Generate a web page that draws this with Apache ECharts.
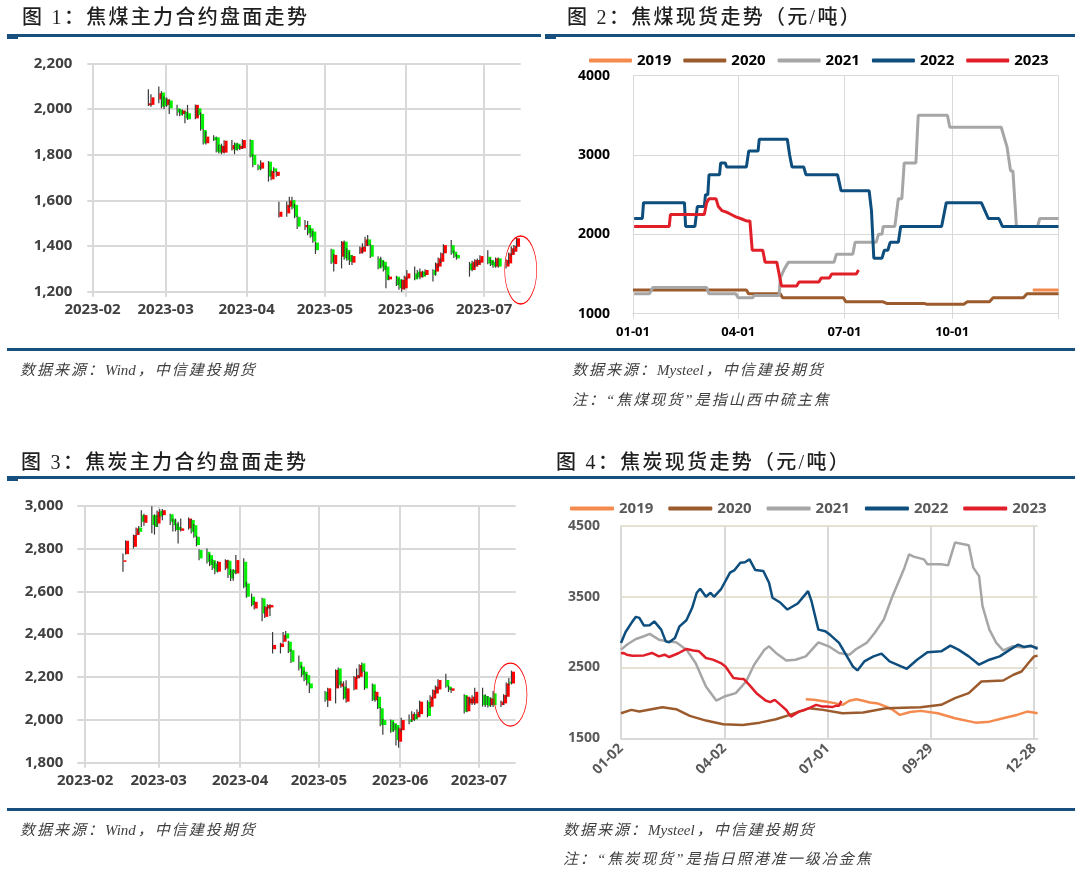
<!DOCTYPE html>
<html>
<head>
<meta charset="utf-8">
<script src="https://cdn.jsdelivr.net/npm/echarts@6/dist/echarts.min.js"></script>
<style>
  html, body { margin: 0; padding: 0; background: #fff; }
  #page { position: relative; width: 1080px; height: 872px; overflow: hidden; }
  #chart { position: absolute; left: 0; top: 0; width: 1080px; height: 872px; }
  .title {
    position: absolute; white-space: nowrap;
    font-family: "Liberation Serif", "Noto Sans CJK SC", serif;
    font-size: 20px; line-height: 20px; font-weight: 500;
    letter-spacing: 2.3px; color: #1f1f1f;
  }
  .rule { position: absolute; height: 3px; background: #17507f; }
  .tab { position: absolute; height: 2px; width: 11px; background: #17507f; }
  .note {
    position: absolute; white-space: nowrap;
    font-family: "Liberation Serif", "Noto Sans CJK SC", serif;
    font-style: italic; font-size: 15px; line-height: 16px;
    letter-spacing: 2px; color: #404040;
  }
  .note .en { letter-spacing: 0; margin-right: 2px; }
</style>
</head>
<body>
<div id="page">
  <div id="chart"></div>

  <div class="title" style="left:22px; top:7px;">图 1：焦煤主力合约盘面走势</div>
  <div class="title" style="left:567px; top:7px;">图 2：焦煤现货走势（元/吨）</div>
  <div class="rule" style="left:7px; top:34px; width:534px;"></div>
  <div class="tab" style="left:7px; top:37px;"></div>
  <div class="rule" style="left:545px; top:34px; width:530px;"></div>
  <div class="tab" style="left:545px; top:37px;"></div>

  <div class="rule" style="left:7px; top:348px; width:1068px;"></div>
  <div class="note" style="left:20px; top:362px;">数据来源：<span class="en">Wind</span>，中信建投期货</div>
  <div class="note" style="left:572px; top:362px;">数据来源：<span class="en">Mysteel</span>，中信建投期货</div>
  <div class="note" style="left:572px; top:392px;">注：“焦煤现货”是指山西中硫主焦</div>

  <div class="title" style="left:21px; top:452px;">图 3：焦炭主力合约盘面走势</div>
  <div class="title" style="left:556px; top:452px;">图 4：焦炭现货走势（元/吨）</div>
  <div class="rule" style="left:7px; top:476px; width:1068px;"></div>
  <div class="tab" style="left:7px; top:479px;"></div>

  <div class="rule" style="left:7px; top:808px; width:1068px;"></div>
  <div class="note" style="left:20px; top:822px;">数据来源：<span class="en">Wind</span>，中信建投期货</div>
  <div class="note" style="left:563px; top:822px;">数据来源：<span class="en">Mysteel</span>，中信建投期货</div>
  <div class="note" style="left:563px; top:851px;">注：“焦炭现货”是指日照港准一级冶金焦</div>
</div>

<script>
// ---------- data ----------
// 图1 焦煤主力合约：[日期, 开, 收, 低, 高]
const jmK = [
  ['2023-02-23',2016,2025,2013,2086],['2023-02-24',2018,2051,2010,2064],
  ['2023-02-27',2042,2069,2025,2098],['2023-02-28',2072,2010,2003,2078],
  ['2023-03-01',2047,2013,2000,2055],['2023-03-02',2018,2042,2010,2050],
  ['2023-03-03',2037,2003,1978,2042],['2023-03-06',2003,1984,1970,2018],
  ['2023-03-07',1996,1974,1968,2000],['2023-03-08',1978,1993,1970,1998],
  ['2023-03-09',1988,1959,1937,1992],['2023-03-10',1981,1955,1952,2018],
  ['2023-03-13',1959,2018,1955,2020],['2023-03-14',2003,1974,1968,2005],
  ['2023-03-15',1978,1911,1905,1985],['2023-03-16',1908,1850,1845,1912],
  ['2023-03-17',1850,1879,1845,1901],['2023-03-20',1876,1864,1860,1885],
  ['2023-03-21',1876,1813,1810,1880],['2023-03-22',1842,1809,1805,1845],
  ['2023-03-23',1809,1838,1802,1848],['2023-03-24',1809,1861,1805,1863],
  ['2023-03-27',1823,1842,1818,1864],['2023-03-28',1850,1820,1802,1853],
  ['2023-03-29',1848,1825,1818,1852],['2023-03-30',1825,1838,1820,1842],
  ['2023-03-31',1828,1864,1825,1868],['2023-04-03',1864,1791,1788,1868],
  ['2023-04-04',1799,1755,1745,1802],['2023-04-06',1753,1736,1732,1758],
  ['2023-04-07',1739,1766,1732,1775],['2023-04-10',1769,1704,1682,1772],
  ['2023-04-11',1692,1728,1688,1732],['2023-04-12',1740,1725,1720,1745],
  ['2023-04-13',1707,1725,1703,1728],['2023-04-14',1528,1550,1525,1594],
  ['2023-04-17',1543,1580,1528,1595],['2023-04-18',1572,1599,1568,1616],
  ['2023-04-19',1601,1565,1560,1616],['2023-04-20',1580,1528,1522,1585],
  ['2023-04-21',1528,1485,1475,1532],['2023-04-24',1482,1492,1470,1514],
  ['2023-04-25',1492,1456,1447,1510],['2023-04-26',1477,1441,1436,1480],
  ['2023-04-27',1463,1419,1414,1466],['2023-04-28',1415,1382,1365,1418],
  ['2023-05-04',1385,1327,1321,1388],['2023-05-05',1321,1361,1288,1365],
  ['2023-05-08',1353,1419,1302,1422],['2023-05-09',1419,1346,1340,1424],
  ['2023-05-10',1383,1339,1335,1390],['2023-05-11',1361,1331,1317,1375],
  ['2023-05-12',1327,1356,1317,1360],['2023-05-15',1368,1394,1365,1398],
  ['2023-05-16',1375,1397,1368,1412],['2023-05-17',1400,1429,1395,1441],
  ['2023-05-18',1429,1404,1400,1448],['2023-05-19',1404,1353,1348,1408],
  ['2023-05-22',1346,1302,1298,1355],['2023-05-23',1339,1310,1305,1353],
  ['2023-05-24',1331,1295,1288,1335],['2023-05-25',1310,1251,1215,1315],
  ['2023-05-26',1254,1266,1250,1273],['2023-05-29',1266,1229,1225,1270],
  ['2023-05-30',1254,1215,1208,1258],['2023-05-31',1210,1251,1200,1255],
  ['2023-06-01',1215,1266,1210,1270],['2023-06-02',1258,1280,1252,1295],
  ['2023-06-05',1280,1254,1250,1310],['2023-06-06',1288,1263,1258,1295],
  ['2023-06-07',1263,1288,1255,1302],['2023-06-08',1288,1266,1262,1292],
  ['2023-06-09',1273,1295,1270,1298],['2023-06-12',1295,1273,1245,1298],
  ['2023-06-13',1288,1324,1270,1328],['2023-06-14',1310,1346,1305,1350],
  ['2023-06-15',1331,1368,1325,1372],['2023-06-16',1368,1404,1362,1408],
  ['2023-06-19',1404,1368,1362,1426],['2023-06-20',1375,1353,1348,1380],
  ['2023-06-21',1361,1346,1340,1365],['2023-06-26',1324,1295,1266,1330],
  ['2023-06-27',1295,1331,1290,1335],['2023-06-28',1310,1339,1305,1342],
  ['2023-06-29',1317,1339,1312,1345],['2023-06-30',1327,1356,1322,1360],
  ['2023-07-03',1353,1324,1320,1382],['2023-07-04',1339,1317,1312,1345],
  ['2023-07-05',1331,1310,1305,1335],['2023-07-06',1310,1346,1305,1350],
  ['2023-07-07',1346,1310,1305,1350],['2023-07-10',1310,1339,1302,1342],
  ['2023-07-11',1324,1368,1320,1372],['2023-07-12',1361,1390,1355,1398],
  ['2023-07-13',1375,1400,1370,1405],['2023-07-14',1397,1434,1392,1440]
];

// 图3 焦炭主力合约：[日期, 开, 收, 低, 高]
const jK = [
  ['2023-02-16',2740,2745,2692,2777],['2023-02-17',2774,2836,2772,2838],
  ['2023-02-20',2808,2863,2800,2865],['2023-02-21',2863,2894,2858,2898],
  ['2023-02-22',2898,2878,2870,2905],['2023-02-23',2956,2925,2901,2979],
  ['2023-02-24',2920,2956,2906,2962],['2023-02-27',2956,2910,2871,2998],
  ['2023-02-28',2956,2901,2865,2960],['2023-03-01',2917,2972,2900,2978],
  ['2023-03-02',2976,2951,2945,2985],['2023-03-03',2956,2979,2932,2985],
  ['2023-03-06',2960,2925,2910,2962],['2023-03-07',2936,2909,2880,2940],
  ['2023-03-08',2917,2886,2880,2940],['2023-03-09',2901,2886,2824,2925],
  ['2023-03-10',2883,2894,2880,2940],['2023-03-13',2894,2940,2888,2945],
  ['2023-03-14',2933,2878,2870,2938],['2023-03-15',2909,2855,2850,2915],
  ['2023-03-16',2855,2816,2810,2860],['2023-03-17',2793,2754,2745,2797],
  ['2023-03-20',2785,2738,2730,2800],['2023-03-21',2769,2723,2718,2775],
  ['2023-03-22',2746,2707,2700,2750],['2023-03-23',2730,2692,2680,2740],
  ['2023-03-24',2692,2738,2688,2742],['2023-03-27',2707,2746,2700,2750],
  ['2023-03-28',2743,2676,2662,2748],['2023-03-29',2700,2660,2648,2705],
  ['2023-03-30',2700,2684,2650,2705],['2023-03-31',2684,2746,2680,2770],
  ['2023-04-03',2738,2621,2615,2755],['2023-04-04',2637,2575,2570,2645],
  ['2023-04-06',2575,2536,2530,2590],['2023-04-07',2520,2551,2515,2555],
  ['2023-04-10',2567,2497,2460,2570],['2023-04-11',2481,2528,2476,2530],
  ['2023-04-12',2520,2536,2512,2540],['2023-04-13',2525,2536,2485,2540],
  ['2023-04-14',2330,2350,2310,2410],['2023-04-17',2340,2357,2310,2360],
  ['2023-04-18',2365,2396,2360,2410],['2023-04-19',2404,2380,2375,2415],
  ['2023-04-20',2365,2318,2312,2370],['2023-04-21',2325,2271,2265,2330],
  ['2023-04-24',2271,2240,2230,2300],['2023-04-25',2248,2209,2200,2255],
  ['2023-04-26',2225,2186,2180,2230],['2023-04-27',2209,2170,2160,2215],
  ['2023-04-28',2170,2147,2125,2175],['2023-05-04',2131,2092,2085,2135],
  ['2023-05-05',2089,2147,2060,2150],['2023-05-08',2147,2233,2077,2236],
  ['2023-05-09',2240,2162,2150,2245],['2023-05-10',2155,2170,2150,2180],
  ['2023-05-11',2155,2100,2095,2180],['2023-05-12',2085,2147,2080,2185],
  ['2023-05-15',2142,2201,2138,2205],['2023-05-16',2194,2209,2190,2240],
  ['2023-05-17',2201,2256,2195,2260],['2023-05-18',2264,2225,2220,2268],
  ['2023-05-19',2225,2147,2140,2230],['2023-05-22',2166,2092,2088,2170],
  ['2023-05-23',2092,2131,2085,2135],['2023-05-24',2108,2054,2050,2112],
  ['2023-05-25',2054,1976,1970,2060],['2023-05-26',1999,1976,1930,2005],
  ['2023-05-29',1999,1945,1940,2002],['2023-05-30',1984,1952,1945,1990],
  ['2023-05-31',1976,1906,1880,1980],['2023-06-01',1898,1960,1870,1965],
  ['2023-06-02',1952,1999,1945,2010],['2023-06-05',2002,1991,1980,2025],
  ['2023-06-06',1999,2027,1990,2040],['2023-06-07',2027,2002,1995,2035],
  ['2023-06-08',2012,2038,2005,2050],['2023-06-09',2027,2085,2020,2090],
  ['2023-06-12',2085,2018,2012,2092],['2023-06-13',2061,2108,2055,2115],
  ['2023-06-14',2100,2139,2095,2142],['2023-06-15',2123,2155,2118,2160],
  ['2023-06-16',2142,2186,2138,2190],['2023-06-19',2186,2155,2150,2215],
  ['2023-06-20',2155,2139,2130,2160],['2023-06-21',2136,2147,2125,2150],
  ['2023-06-26',2116,2038,2030,2120],['2023-06-27',2040,2108,2035,2112],
  ['2023-06-28',2077,2100,2070,2105],['2023-06-29',2077,2108,2070,2115],
  ['2023-06-30',2077,2131,2070,2150],['2023-07-03',2116,2069,2062,2150],
  ['2023-07-04',2111,2069,2060,2120],['2023-07-05',2105,2064,2058,2112],
  ['2023-07-06',2069,2100,2060,2105],['2023-07-07',2124,2069,2060,2135],
  ['2023-07-10',2069,2085,2060,2090],['2023-07-11',2077,2116,2070,2120],
  ['2023-07-12',2108,2170,2100,2175],['2023-07-13',2178,2170,2160,2195],
  ['2023-07-14',2170,2225,2165,2230]
];

// 图2 焦煤现货：[当年第几天(0=01-01), 元/吨]
const jmSpot2019 = [[342,1300],[364,1300]];
const jmSpot2020 = [[0,1300],[97,1300],[99,1250],[126,1250],[128,1200],[180,1200],[182,1150],
  [214,1150],[217,1130],[249,1130],[251,1120],[283,1120],[286,1150],[305,1150],[308,1200],
  [334,1200],[337,1250],[364,1250]];
const jmSpot2021 = [[1,1250],[14,1250],[17,1330],[63,1330],[65,1250],[88,1250],[90,1200],
  [102,1200],[104,1230],[125,1230],[126,1450],[129,1550],[133,1650],[172,1650],[174,1750],
  [188,1750],[190,1900],[208,1900],[210,2000],[213,2000],[214,2100],[224,2100],[227,2450],
  [230,2450],[232,2900],[242,2900],[244,3500],[269,3500],[271,3350],[315,3350],[320,3100],
  [323,2800],[325,2800],[328,2100],[346,2100],[348,2200],[364,2200]];
const jmSpot2022 = [[1,2200],[8,2200],[9,2400],[44,2400],[45,2100],[53,2100],[55,2350],
  [61,2350],[62,2500],[64,2500],[65,2750],[74,2750],[75,2900],[79,2900],[80,2850],[97,2850],
  [99,3050],[107,3050],[108,3200],[132,3200],[134,3000],[136,2850],[146,2850],[148,2750],
  [175,2750],[178,2550],[202,2550],[204,2300],[206,1700],[213,1700],[215,1800],[218,1800],
  [220,1900],[227,1900],[229,2100],[264,2100],[268,2400],[298,2400],[301,2300],[304,2200],
  [313,2200],[316,2100],[364,2100]];
const jmSpot2023 = [[1,2100],[31,2100],[32,2250],[61,2250],[63,2400],[65,2450],[71,2450],
  [73,2350],[76,2300],[80,2280],[84,2250],[88,2220],[92,2200],[97,2170],[100,2170],[102,1800],
  [111,1800],[113,1650],[123,1650],[125,1500],[127,1350],[140,1350],[142,1400],[159,1400],
  [161,1450],[168,1450],[170,1500],[191,1500],[193,1550]];

// 图4 焦炭现货：[第几天(0=01-02), 元/吨]
const jSpot2019 = [[161,2052],[168,2045],[178,2020],[185,2000],[193,1972],[199,2030],[205,2052],
  [211,2030],[217,2005],[224,1990],[231,1948],[237,1900],[243,1830],[252,1870],[261,1887],
  [276,1854],[291,1783],[309,1721],[321,1735],[333,1783],[345,1830],[354,1877],[363,1854]];
const jSpot2020 = [[0,1854],[9,1901],[16,1877],[36,1939],[48,1911],[60,1816],[74,1750],[89,1698],
  [106,1688],[121,1721],[135,1769],[147,1830],[164,1925],[176,1901],[193,1854],[211,1863],
  [231,1925],[261,1939],[279,1972],[291,2066],[303,2137],[314,2302],[333,2316],[342,2397],
  [349,2443],[355,2562],[360,2656],[363,2666]];
const jSpot2021 = [[0,2751],[6,2830],[13,2902],[20,2940],[25,2973],[33,2892],[40,2870],[48,2854],
  [57,2751],[65,2562],[74,2231],[83,2032],[90,2089],[100,2137],[109,2302],[116,2538],[125,2751],
  [129,2798],[135,2704],[144,2599],[152,2609],[161,2656],[172,2854],[181,2798],[190,2704],
  [199,2680],[205,2760],[214,2846],[221,2987],[229,3176],[236,3483],[244,3789],[247,3908],
  [251,4096],[255,4064],[264,4025],[267,3955],[279,3955],[285,3940],[291,4262],[303,4224],
  [307,3908],[312,3789],[315,3364],[321,3034],[327,2846],[333,2740],[341,2798],[350,2780],
  [357,2800],[363,2780]];
const jSpot2022 = [[0,2846],[4,3000],[10,3150],[13,3214],[16,3200],[20,3090],[25,3095],[29,3150],
  [35,3034],[39,2868],[42,2854],[47,2916],[51,3080],[57,3166],[62,3341],[66,3554],[69,3610],
  [74,3497],[78,3554],[81,3497],[87,3600],[95,3837],[99,3874],[104,3978],[108,3985],[112,4025],
  [117,3874],[124,3860],[129,3695],[132,3483],[139,3412],[145,3317],[154,3402],[163,3577],
  [166,3435],[172,3034],[178,3010],[182,2963],[190,2846],[196,2680],[202,2514],[206,2458],
  [212,2585],[220,2656],[227,2694],[234,2585],[244,2514],[249,2481],[258,2609],[267,2713],
  [279,2727],[287,2807],[294,2751],[303,2656],[312,2538],[321,2609],[330,2656],[339,2751],
  [346,2822],[351,2789],[357,2807],[363,2761]];
const jSpot2023 = [[0,2700],[2,2704],[5,2680],[10,2666],[20,2670],[27,2704],[33,2656],[38,2680],
  [42,2647],[50,2700],[57,2761],[63,2740],[68,2727],[74,2633],[80,2610],[87,2562],[91,2514],
  [98,2350],[103,2340],[107,2336],[112,2250],[118,2137],[126,2033],[130,2010],[134,2042],
  [139,1972],[144,1900],[148,1806],[155,1877],[160,1900],[164,1925],[170,1972],[175,1950],
  [179,1948],[184,1940],[187,1958],[190,1960],[192,2028]];

const years = ['2019', '2020', '2021', '2022', '2023'];
const yearColors = ['#f58a4e', '#9c5b2d', '#a6a6a6', '#0e4e7e', '#e01f29'];
const xTicks2 = ['01-01', '04-01', '07-01', '10-01'];
const xTicks4 = ['01-02', '04-02', '07-01', '09-29', '12-28'];

// ---------- axes helpers ----------
function dayRange(a, b) {
  const out = [];
  let t = Date.parse(a + 'T00:00:00Z');
  const end = Date.parse(b + 'T00:00:00Z');
  while (t <= end) {
    out.push(new Date(t).toISOString().slice(0, 10));
    t += 86400000;
  }
  return out;
}
const days1 = dayRange('2023-01-30', '2023-07-15');
const days3 = dayRange('2023-01-29', '2023-07-15');
const days2 = dayRange('2023-01-01', '2023-12-31').map(d => d.slice(5));
const days4 = dayRange('2023-01-02', '2023-12-31').map(d => d.slice(5));

const monthStart = (i, v) => v.slice(8) === '01';
const numFont = '"Open Sans", "DejaVu Sans", sans-serif';

const renderCandle = (params, api) => {
  const x = api.value(0);
  const o = api.value(1), c = api.value(2), l = api.value(3), h = api.value(4);
  const pO = api.coord([x, o]);
  const pC = api.coord([x, c]);
  const pL = api.coord([x, l]);
  const pH = api.coord([x, h]);
  const cx = pO[0];
  const top = Math.min(pO[1], pC[1]);
  const hgt = Math.max(Math.abs(pO[1] - pC[1]), 1.5);
  return {
    type: 'group',
    children: [
      { type: 'rect', shape: { x: cx - 2.2, y: pH[1], width: 1.2, height: pL[1] - pH[1] },
        style: { fill: '#3a3a3a' } },
      { type: 'rect', shape: { x: cx - 1.1, y: top, width: 3, height: hgt },
        style: { fill: c >= o ? '#ff0000' : '#00f000' } }
    ]
  };
};

const futXAxis = (gridIndex, cats) => ({
  type: 'category', gridIndex, data: cats, boundaryGap: false,
  axisLine: { show: false },
  axisTick: { show: true, interval: monthStart, length: 5, lineStyle: { color: '#d9d9d9', width: 2 } },
  splitLine: { show: true, interval: monthStart, lineStyle: { color: '#d9d9d9', width: 2 } },
  axisLabel: {
    interval: monthStart, formatter: v => v.slice(0, 7), margin: 11,
    color: '#404040', fontWeight: 'bold', fontSize: 15, fontFamily: numFont
  }
});
const futYAxis = (gridIndex, min, max, margin) => ({
  type: 'value', gridIndex, min, max, interval: 200,
  axisLine: { show: false }, axisTick: { show: false },
  splitLine: { lineStyle: { color: '#d9d9d9', width: 2 } },
  axisLabel: {
    formatter: v => v.toLocaleString('en-US'), margin,
    color: '#404040', fontWeight: 'bold', fontSize: 15, fontFamily: numFont
  }
});

const spotSeries = (list, xi) => list.map((data, k) => ({
  name: years[k], type: 'line', xAxisIndex: xi, yAxisIndex: xi,
  data, symbol: 'none', color: yearColors[k],
  lineStyle: { width: xi === 1 ? 3 : 2.5, color: yearColors[k] }
}));

const chart = echarts.init(document.getElementById('chart'));
chart.setOption({
  animation: false,
  grid: [
    { left: 87.3, right: 559.3, top: 63.3, bottom: 580.3 },
    { left: 633, right: 21.5, top: 75.7, bottom: 558.3 },
    { left: 77.3, right: 564.3, top: 505.7, bottom: 109.3 },
    { left: 621, right: 42.4, top: 525.7, bottom: 133.7 }
  ],
  legend: [
    {
      data: years, left: 589, top: 53, padding: 0, itemWidth: 43, itemHeight: 4,
      itemGap: 12, icon: 'roundRect',
      textStyle: { color: '#000', fontWeight: 'bold', fontSize: 15, fontFamily: numFont }
    },
    {
      data: years, left: 570, top: 501, padding: 0, itemWidth: 44, itemHeight: 4,
      itemGap: 15, icon: 'roundRect',
      textStyle: { color: '#595959', fontWeight: 'bold', fontSize: 15, fontFamily: numFont }
    }
  ],
  xAxis: [
    futXAxis(0, days1),
    {
      type: 'category', gridIndex: 1, data: days2, boundaryGap: false,
      axisLine: { lineStyle: { color: '#d9d9d9', width: 1 } },
      axisTick: { interval: (i, v) => xTicks2.includes(v) || i === days2.length - 1, length: 5,
        lineStyle: { color: '#d9d9d9' } },
      splitLine: { show: true, interval: (i, v) => xTicks2.includes(v) || i === days2.length - 1,
        lineStyle: { color: '#d9d9d9', width: 1 } },
      axisLabel: { interval: (i, v) => xTicks2.includes(v), margin: 12,
        color: '#000', fontWeight: 'bold', fontSize: 13, fontFamily: numFont }
    },
    futXAxis(2, days3),
    {
      type: 'category', gridIndex: 3, data: days4, boundaryGap: false,
      axisLine: { lineStyle: { color: '#d9d9d9', width: 2 } },
      axisTick: { show: false },
      splitLine: { show: true, interval: (i, v) => xTicks4.includes(v),
        lineStyle: { color: '#d9d9d9', width: 2 } },
      axisLabel: { interval: (i, v) => xTicks4.includes(v), rotate: 45, margin: 8,
        color: '#595959', fontWeight: 'bold', fontSize: 14, fontFamily: numFont }
    }
  ],
  yAxis: [
    futYAxis(0, 1200, 2200, 15),
    {
      type: 'value', gridIndex: 1, min: 1000, max: 4000, interval: 1000,
      axisLine: { show: false }, axisTick: { show: false },
      splitLine: { lineStyle: { color: '#d9d9d9', width: 1 } },
      axisLabel: { formatter: v => String(v), margin: 23,
        color: '#000', fontWeight: 'bold', fontSize: 14, fontFamily: numFont }
    },
    futYAxis(2, 1800, 3000, 14),
    {
      type: 'value', gridIndex: 3, min: 1500, max: 4500, interval: 1000,
      axisLine: { show: false }, axisTick: { show: false },
      splitLine: { lineStyle: { color: '#dcd8c2', width: 1.5 } },
      axisLabel: { formatter: v => String(v), margin: 21,
        color: '#595959', fontWeight: 'bold', fontSize: 14, fontFamily: numFont }
    }
  ],
  series: [
    { type: 'custom', xAxisIndex: 0, yAxisIndex: 0, data: jmK,
      encode: { x: 0, y: [1, 2, 3, 4] }, renderItem: renderCandle },
    { type: 'custom', xAxisIndex: 2, yAxisIndex: 2, data: jK,
      encode: { x: 0, y: [1, 2, 3, 4] }, renderItem: renderCandle }
  ]
    .concat(spotSeries([jmSpot2019, jmSpot2020, jmSpot2021, jmSpot2022, jmSpot2023], 1))
    .concat(spotSeries([jSpot2019, jSpot2020, jSpot2021, jSpot2022, jSpot2023], 3))
});

// red ellipses marking the latest rebound
const ring = (p, rx, ry) => ({
  type: 'circle', x: p[0], y: p[1], scaleX: rx / ry, scaleY: 1,
  shape: { cx: 0, cy: 0, r: ry },
  style: { fill: 'none', stroke: '#ff0000', lineWidth: 1.3, strokeNoScale: true },
  z: 100
});
const p1 = chart.convertToPixel({ xAxisIndex: 0, yAxisIndex: 0 }, [days1.length - 1, 1295]);
const p3 = chart.convertToPixel({ xAxisIndex: 2, yAxisIndex: 2 }, [days3.indexOf('2023-07-13'), 2118]);
chart.setOption({ graphic: [ring(p1, 16, 34), ring(p3, 16.5, 31.5)] });
</script>
</body>
</html>
